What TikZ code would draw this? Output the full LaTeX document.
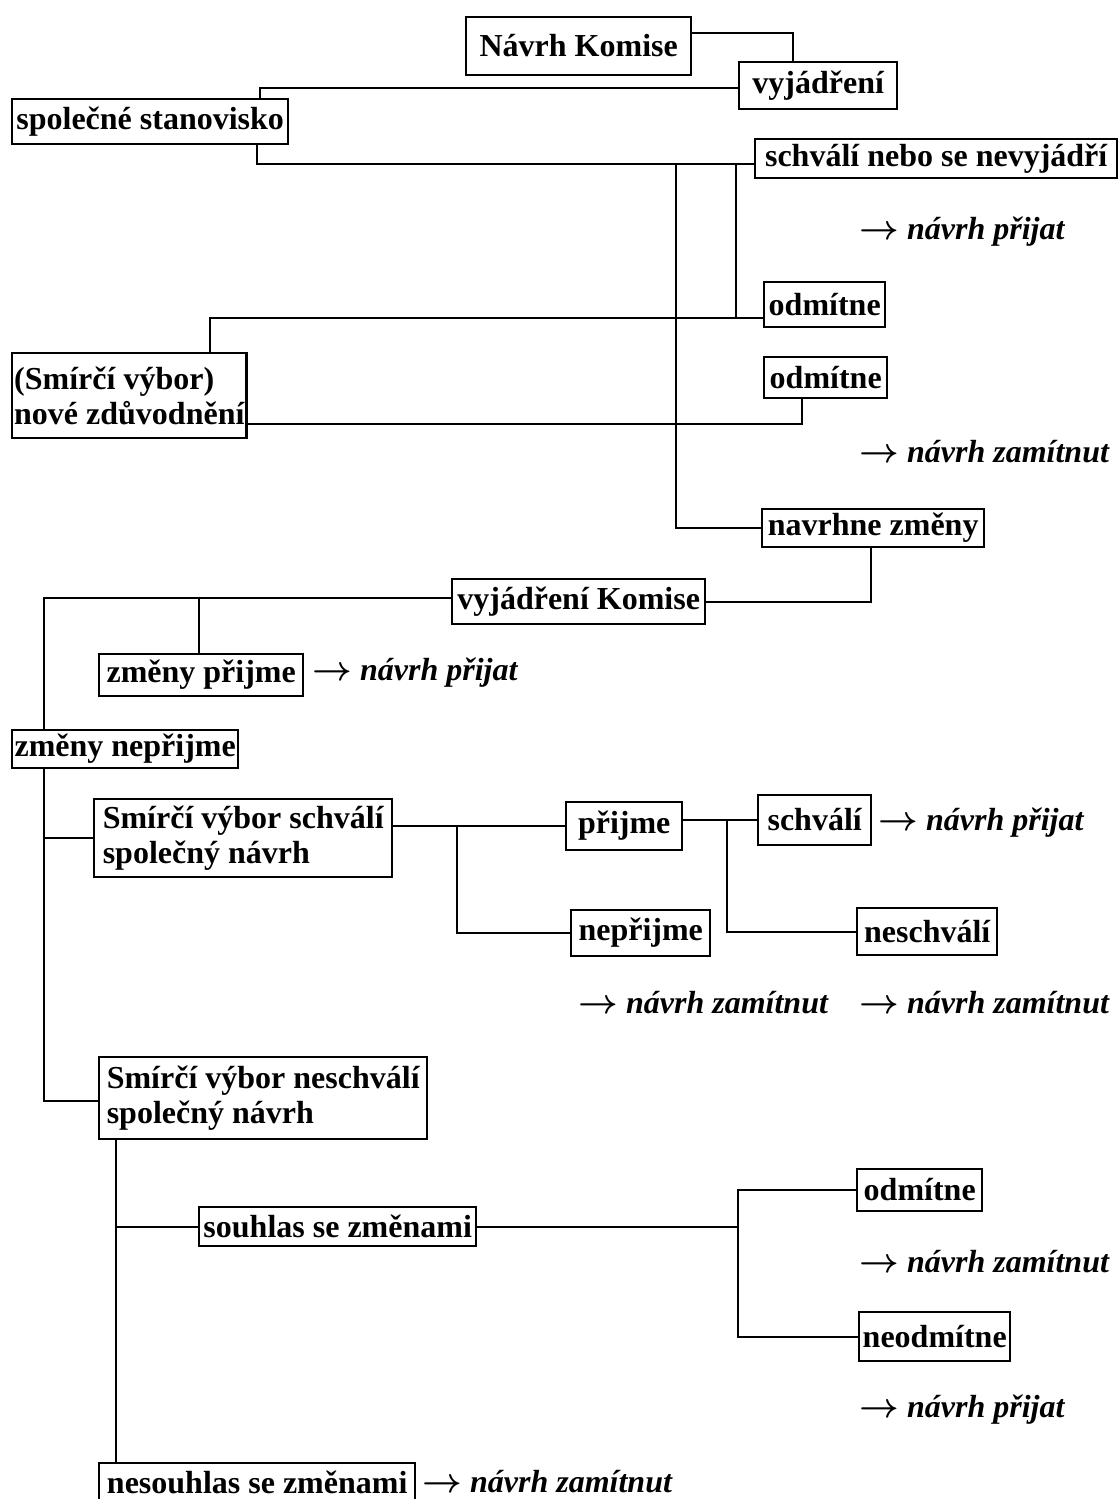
\documentclass[tikz,border=0pt]{standalone}
\usepackage{fontspec}
\setmainfont{Liberation Serif}
\usetikzlibrary{calc}

\tikzset{
  box/.style 2 args={draw,line width=1.2pt,anchor=west,inner sep=1pt,align=left,
    minimum width=#1,minimum height=#2},
  res/.style={anchor=west,inner sep=0pt,font=\fontsize{16}{17.5}\selectfont\bfseries\itshape\boldmath},
  link/.style={line width=1pt}
}

\begin{document}
\begin{tikzpicture}[x=0.5pt,y=-0.5pt,font=\fontsize{16}{17.5}\selectfont\bfseries]
  \path[use as bounding box,clip] (0,0) rectangle (1118,1499);
  % boxes
  \node[box={112.5pt}{29pt},align=center] (nk) at (465,46) {Návrh Komise};
  \node[box={79pt}{23.5pt}] (vyj) at (738,85.5) {vyjádření};
  \node[box={138pt}{22.5pt}] (spol) at (11,121.5) {společné stanovisko};
  \node[box={181pt}{19.5pt}] (schv) at (754,158.5) {schválí nebo se nevyjádří};
  \node[box={60.5pt}{22.5pt}] (odm1) at (763,304.5) {odmítne};
  \node[box={117pt}{42.5pt}] (smv) at (11,395.5) {(Smírčí výbor)\\nové zdůvodnění};
  \node[box={61.5pt}{20.5pt}] (odm2) at (763,377.5) {odmítne};
  \node[box={111pt}{19pt}] (navz) at (761,528) {navrhne změny};
  \node[box={126.5pt}{22.5pt}] (vk) at (451,601.5) {vyjádření Komise};
  \node[box={102pt}{21pt}] (zp) at (98,675) {změny přijme};
  \node[box={113pt}{19pt}] (zn) at (11,749) {změny nepřijme};
  \node[box={149pt}{39pt}] (sss) at (93,838) {Smírčí výbor schválí\\společný návrh};
  \node[box={58pt}{24pt}] (pr) at (565,826) {přijme};
  \node[box={56.5pt}{25pt}] (sch) at (757,820) {schválí};
  \node[box={69.5pt}{23pt}] (npr) at (570,933) {nepřijme};
  \node[box={70pt}{23.5pt}] (nsch) at (856,931.5) {neschválí};
  \node[box={164pt}{41pt}] (ssn) at (98,1098) {Smírčí výbor neschválí\\společný návrh};
  \node[box={138.5pt}{19.5pt}] (sz) at (198,1226.5) {souhlas se změnami};
  \node[box={62.5pt}{21pt}] (odm3) at (856,1190) {odmítne};
  \node[box={75.5pt}{24.5pt}] (nodm) at (858,1336.5) {neodmítne};
  \node[box={158pt}{19pt}] (nsz) at (98,1482) {nesouhlas se změnami};
  % results
  \node[res] (r1) at (859,232) {$\rightarrow$ návrh přijat};
  \node[res] (r2) at (859,452) {$\rightarrow$ návrh zamítnut};
  \node[res] (r3) at (312,673) {$\rightarrow$ návrh přijat};
  \node[res] (r4) at (878,823) {$\rightarrow$ návrh přijat};
  \node[res] (r5) at (578,1003) {$\rightarrow$ návrh zamítnut};
  \node[res] (r6) at (859,1003) {$\rightarrow$ návrh zamítnut};
  \node[res] (r7) at (859,1262) {$\rightarrow$ návrh zamítnut};
  \node[res] (r8) at (859,1410) {$\rightarrow$ návrh přijat};
  \node[res] (r9) at (422,1482) {$\rightarrow$ návrh zamítnut};
  % junctions
  \coordinate (j1) at (676,163);
  \coordinate (j2) at (736,163);
  \coordinate (j3) at (199,598);
  \coordinate (j4) at (44,838);
  \coordinate (j5) at (457,826);
  \coordinate (j6) at (727,820);
  \coordinate (j7) at (116,1226.5);
  \coordinate (j8) at (738,1226.5);
  % connectors
  \draw[link] ($(nk.north east)+(0,17)$) -| ($(vyj.north west)+(55,0)$);
  \draw[link] ($(vyj.north west)+(0,27)$) -| ($(spol.north west)+(249,0)$);
  \draw[link] ($(spol.south west)+(246,0)$) |- ($(schv.south west)+(0,-15)$);
  \draw[link] (j1) |- (navz.west);
  \draw[link] (j2) |- ($(odm1.south west)+(0,-10)$);
  \draw[link] ($(odm1.south west)+(0,-10)$) -| ($(smv.north west)+(199,0)$);
  \draw[link] ($(smv.south east)+(0,-15)$) -| ($(odm2.south west)+(39,0)$);
  \draw[link] ($(navz.south west)+(110,0)$) |- (vk.east);
  \draw[link] ($(vk.west)+(0,-3.5)$) -| ($(zn.north west)+(33,0)$);
  \draw[link] (j3) -- (j3 |- zp.north);
  \draw[link] ($(zn.south west)+(33,0)$) |- ($(ssn.west)+(0,3)$);
  \draw[link] (j4) -- (sss.west);
  \draw[link] (pr.west -| sss.east) -- (pr.west);
  \draw[link] (j5) |- (npr.west);
  \draw[link] (sch.west -| pr.east) -- (sch.west);
  \draw[link] (j6) |- (nsch.west);
  \draw[link] ($(ssn.south west)+(18,0)$) -- ($(nsz.north west)+(18,0)$);
  \draw[link] (j7) -- (sz.west);
  \draw[link] (sz.east) -- (j8);
  \draw[link] (odm3.west) -| (j8) |- (nodm.west);
\end{tikzpicture}
\end{document}
